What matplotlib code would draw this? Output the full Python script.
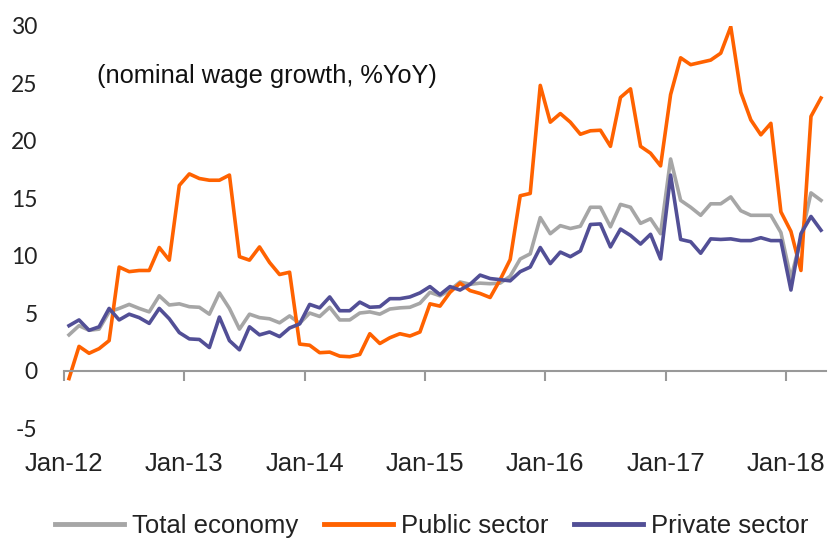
import matplotlib
matplotlib.use("Agg")
import matplotlib.pyplot as plt
import numpy as np

# monthly, Jan-12 .. Apr-18
total = [3.1, 3.9, 3.5, 3.6, 5.1, 5.4, 5.75, 5.4, 5.1, 6.5, 5.7, 5.8,
         5.55, 5.5, 4.9, 6.75, 5.4, 3.6, 4.9, 4.6, 4.5, 4.15, 4.75, 4.1,
         5.0, 4.7, 5.5, 4.4, 4.4, 5.0, 5.1, 4.9, 5.35, 5.45, 5.5, 5.85,
         6.8, 6.5, 7.0, 7.7, 7.5, 7.6, 7.55, 7.6, 8.2, 9.7, 10.15, 13.3,
         11.9, 12.6, 12.35, 12.55, 14.2, 14.2, 12.5, 14.45, 14.2, 12.8, 13.2, 11.9,
         18.4, 14.8, 14.2, 13.5, 14.5, 14.5, 15.1, 13.9, 13.5, 13.5, 13.5, 12.0,
         8.0, 11.5, 15.45, 14.8]
public = [-0.7, 2.1, 1.5, 1.9, 2.6, 9.0, 8.6, 8.7, 8.7, 10.7, 9.6, 16.1,
          17.1, 16.7, 16.55, 16.55, 17.0, 9.9, 9.6, 10.75, 9.4, 8.35, 8.55, 2.3,
          2.2, 1.55, 1.6, 1.25, 1.2, 1.4, 3.2, 2.35, 2.85, 3.2, 3.0, 3.35,
          5.8, 5.6, 6.8, 7.6, 6.95, 6.7, 6.35, 7.9, 9.65, 15.2, 15.4, 24.8,
          21.6, 22.35, 21.6, 20.55, 20.85, 20.9, 19.5, 23.75, 24.5, 19.5, 18.9, 17.8,
          24.0, 27.2, 26.6, 26.8, 27.0, 27.6, 29.9, 24.2, 21.8, 20.5, 21.5, 13.8,
          12.1, 8.7, 22.1, 23.7]
private = [3.9, 4.4, 3.5, 3.8, 5.4, 4.4, 4.9, 4.6, 4.1, 5.4, 4.5, 3.3,
           2.75, 2.7, 2.0, 4.65, 2.6, 1.8, 3.8, 3.1, 3.35, 2.95, 3.7, 4.05,
           5.75, 5.45, 6.4, 5.2, 5.2, 5.95, 5.5, 5.55, 6.25, 6.25, 6.4, 6.75,
           7.3, 6.6, 7.3, 7.0, 7.5, 8.3, 8.0, 7.9, 7.8, 8.6, 9.0, 10.7,
           9.3, 10.3, 9.9, 10.4, 12.7, 12.75, 10.75, 12.3, 11.75, 11.0, 11.85, 9.7,
           17.0, 11.4, 11.2, 10.2, 11.45, 11.4, 11.45, 11.3, 11.3, 11.55, 11.3, 11.3,
           7.0, 11.9, 13.4, 12.2]
tick_labels = ["Jan-12", "Jan-13", "Jan-14", "Jan-15", "Jan-16", "Jan-17", "Jan-18"]
y_ticks = [-5, 0, 5, 10, 15, 20, 25, 30]

x = np.arange(len(total)) + 0.5

fig = plt.figure(figsize=(8.3, 5.4), dpi=100)
ax = fig.add_axes([0.0771, 0.2074, 0.9181, 0.7452])

ax.plot(x, total, color="#A6A6A6", lw=2.6, label="Total economy")
ax.plot(x, public, color="#FF6200", lw=2.6, label="Public sector")
ax.plot(x, private, color="#524F96", lw=2.6, label="Private sector")

ax.set_xlim(0, len(total))
ax.set_ylim(-5, 30)
ax.set_yticks(y_ticks)
ax.set_yticklabels([str(v) for v in y_ticks], family="Lato", fontsize=16.5, color="#222222")
ax.tick_params(axis="y", length=0, pad=19)

for s in ["top", "right", "left"]:
    ax.spines[s].set_visible(False)
ax.spines["bottom"].set_position(("data", 0))
ax.spines["bottom"].set_color("#999999")
ax.spines["bottom"].set_linewidth(1.5)
ax.set_xticks(np.arange(0, len(total), 12))
ax.tick_params(axis="x", direction="out", length=7, width=1.5, color="#999999", labelbottom=False)

# labels sit under the plot, not on the zero line
sec = ax.secondary_xaxis("bottom")
sec.set_xticks(np.arange(0, len(total), 12))
sec.set_xticklabels(tick_labels, family="Liberation Sans", fontsize=18.5, color="#222222")
sec.tick_params(length=0, pad=17)
sec.spines["bottom"].set_visible(False)

ax.text(0.043, 0.875, "(nominal wage growth, %YoY)", transform=ax.transAxes,
        family="Liberation Sans", fontsize=18.3, color="#111111", va="center")

leg = fig.legend(loc="lower center", bbox_to_anchor=(0.52, -0.04), ncol=3, frameon=False,
                 prop={"family": "Liberation Sans", "size": 18.5}, handlelength=2.7,
                 handletextpad=0.3, columnspacing=1.0)
for t in leg.get_texts():
    t.set_color("#222222")
for h in leg.legend_handles:
    h.set_linewidth(3.5)

fig.savefig("out.png", dpi=100)
